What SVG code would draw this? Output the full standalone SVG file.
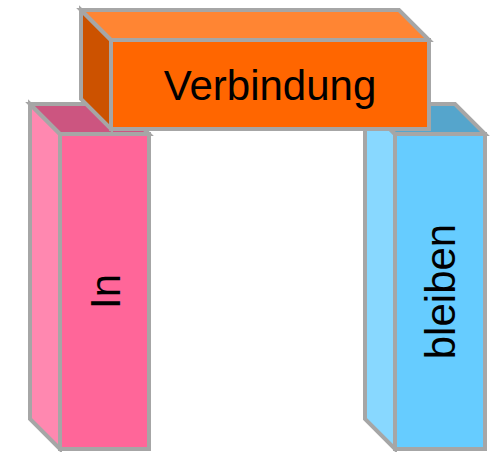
<svg xmlns="http://www.w3.org/2000/svg" width="490" height="452" viewBox="0 0 490 452">
<style>
.e{stroke:#A6A6A6;stroke-width:4;stroke-linejoin:miter}
.t{font-family:"Liberation Sans",Arial,sans-serif;font-size:42px;fill:#000}
</style>
<rect width="490" height="452" fill="#fff"/>
<g id="in">
<polygon class="e" fill="#FF88B0" points="30,104 60,134 60,449 30,419"/>
<polygon class="e" fill="#CC5580" points="30,104 119,104 149,134 60,134"/>
<rect class="e" fill="#FF6699" x="60" y="134" width="89" height="315"/>
<text class="t" text-anchor="middle" transform="translate(119.5,291.5) rotate(-90)">In</text>
</g>
<g id="bleiben">
<polygon class="e" fill="#88D8FF" points="365,104 395,134 395,449 365,419"/>
<polygon class="e" fill="#55A5CC" points="365,104 455,104 485,134 395,134"/>
<rect class="e" fill="#66CCFF" x="395" y="134" width="90" height="315"/>
<text class="t" text-anchor="middle" transform="translate(455,291.5) rotate(-90)">bleiben</text>
</g>
<g id="verbindung">
<polygon class="e" fill="#CC5200" points="81,10 111,40 111,129 81,99"/>
<polygon class="e" fill="#FF8533" points="81,10 399,10 429,40 111,40"/>
<rect class="e" fill="#FF6600" x="111" y="40" width="318" height="89"/>
<text class="t" text-anchor="middle" x="270" y="99.5">Verbindung</text>
</g>
<g id="connectors"></g>
</svg>
